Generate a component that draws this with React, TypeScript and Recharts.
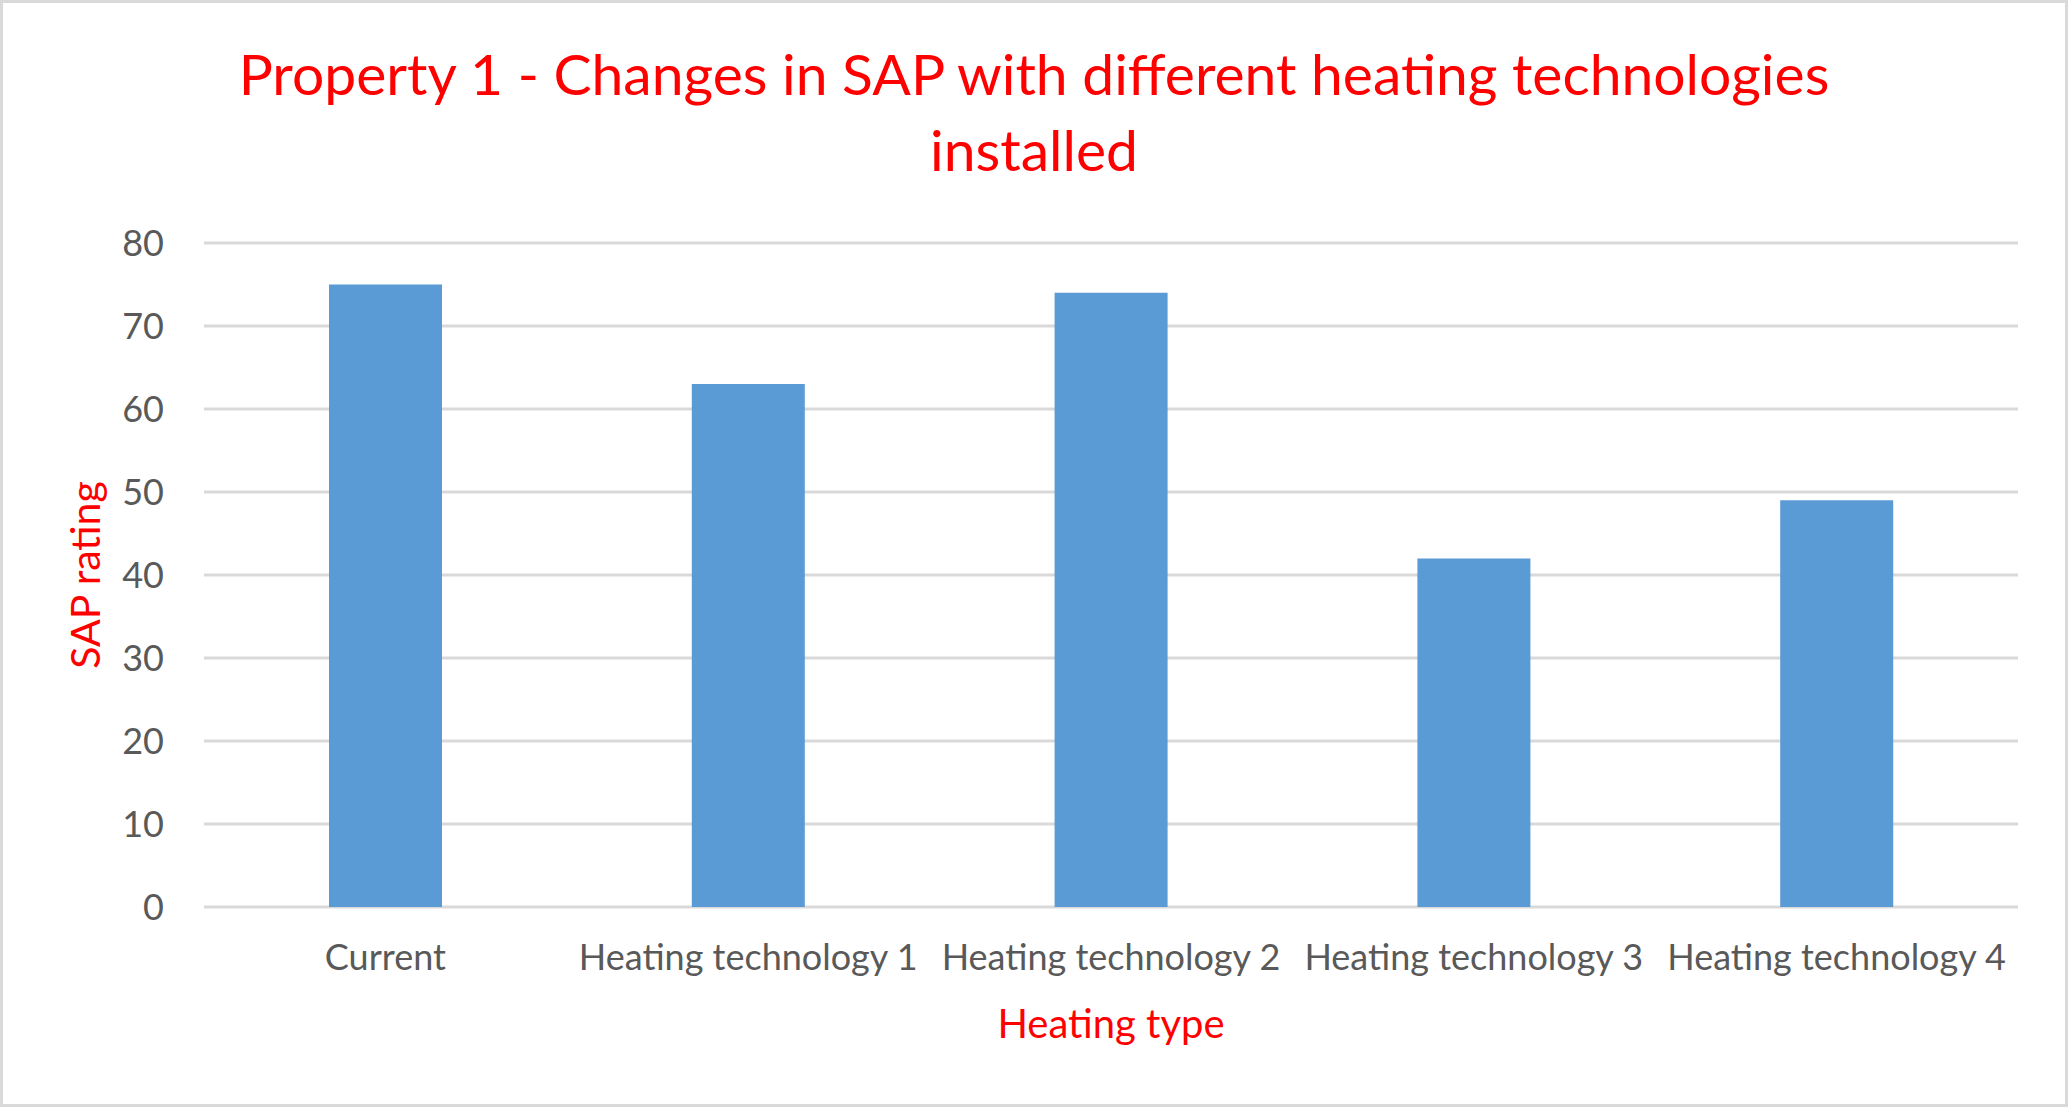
import { BarChart, Bar, XAxis, YAxis, CartesianGrid } from "recharts";

const categories = [
  "Current",
  "Heating technology 1",
  "Heating technology 2",
  "Heating technology 3",
  "Heating technology 4",
];
const sapRatings = [75, 63, 74, 42, 49];
const yTicks = [0, 10, 20, 30, 40, 50, 60, 70, 80];
const titleLines = ["Property 1 - Changes in SAP with different heating technologies", "installed"];

const data = categories.map((name, i) => ({ name, sap: sapRatings[i] }));

const W = 2068;
const H = 1107;
const FONT = "Lato, 'Open Sans', sans-serif";
const RED = "#FF0000";
const GREY = "#595959";

const XTitle = ({ viewBox }: any) => {
  const cx = viewBox.x + viewBox.width / 2;
  return (
    <text x={cx} y={1038} textAnchor="middle" fill={RED} fontSize={40} fontFamily={FONT}>
      Heating type
    </text>
  );
};

const YTitle = ({ viewBox }: any) => {
  const cy = viewBox.y + viewBox.height / 2;
  return (
    <text
      x={100}
      y={cy}
      transform={`rotate(-90, 100, ${cy})`}
      textAnchor="middle"
      fill={RED}
      fontSize={41}
      fontFamily={FONT}
    >
      SAP rating
    </text>
  );
};

export default function App() {
  return (
    <div style={{ position: "absolute", left: 0, top: 0, width: W, height: H, background: "#fff" }}>
      <BarChart
        width={W}
        height={H}
        data={data}
        margin={{ top: 243, right: 50, bottom: 80, left: 84 }}
      >
        <CartesianGrid vertical={false} stroke="#D9D9D9" strokeWidth={3} />
        <XAxis
          dataKey="name"
          interval={0}
          height={120}
          axisLine={false}
          tickLine={false}
          tickSize={0}
          tickMargin={37}
          tick={{ fontSize: 36, fill: GREY, fontFamily: FONT }}
          label={<XTitle />}
        />
        <YAxis
          domain={[0, 80]}
          ticks={yTicks}
          width={120}
          axisLine={false}
          tickLine={false}
          tickSize={0}
          tickMargin={40}
          tick={{ fontSize: 36, fill: GREY, fontFamily: FONT }}
          label={<YTitle />}
        />
        <Bar dataKey="sap" fill="#5B9BD5" barSize={113} isAnimationActive={false} />
      </BarChart>
      <svg
        width={W}
        height={H}
        style={{ position: "absolute", left: 0, top: 0, pointerEvents: "none" }}
      >
        {titleLines.map((line, i) => (
          <text
            key={i}
            x={W / 2}
            y={95 + i * 76}
            textAnchor="middle"
            fill={RED}
            fontSize={57}
            fontFamily={FONT}
          >
            {line}
          </text>
        ))}
      </svg>
      <div
        style={{
          position: "absolute",
          inset: 0,
          border: "3px solid #D9D9D9",
          pointerEvents: "none",
        }}
      />
    </div>
  );
}
